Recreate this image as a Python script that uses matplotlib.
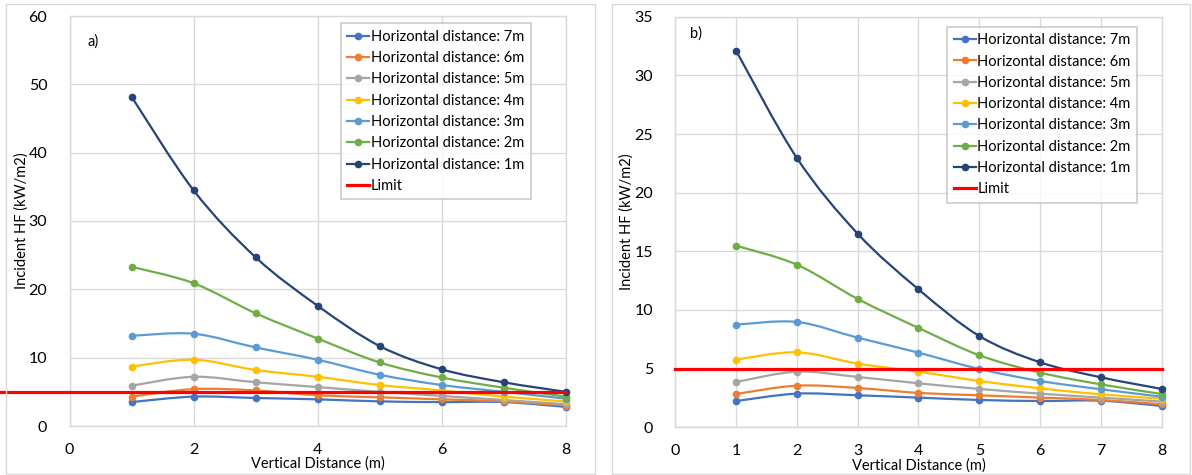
import matplotlib
matplotlib.use("Agg")
import matplotlib.pyplot as plt
from matplotlib.path import Path
from matplotlib.patches import PathPatch, Rectangle
from matplotlib.lines import Line2D
import numpy as np

plt.rcParams['font.family'] = ['Lato', 'DejaVu Sans']

x_vals = [1, 2, 3, 4, 5, 6, 7, 8]
labels = ["Horizontal distance: 7m", "Horizontal distance: 6m", "Horizontal distance: 5m",
          "Horizontal distance: 4m", "Horizontal distance: 3m", "Horizontal distance: 2m",
          "Horizontal distance: 1m"]
colors = ["#4472C4", "#ED7D31", "#A5A5A5", "#FFC000", "#5B9BD5", "#70AD47", "#264478"]

# panel a)
a_7m = [3.5, 4.3, 4.1, 3.9, 3.6, 3.5, 3.5, 2.8]
a_6m = [4.3, 5.4, 5.2, 4.5, 4.2, 3.9, 3.6, 3.0]
a_5m = [5.9, 7.2, 6.4, 5.7, 5.0, 4.4, 3.8, 3.2]
a_4m = [8.7, 9.7, 8.2, 7.2, 6.0, 5.2, 4.3, 3.6]
a_3m = [13.2, 13.5, 11.5, 9.7, 7.5, 6.0, 5.0, 4.0]
a_2m = [23.3, 20.9, 16.5, 12.8, 9.3, 7.1, 5.6, 4.3]
a_1m = [48.2, 34.5, 24.7, 17.6, 11.7, 8.3, 6.4, 5.0]
a_limit_x = [-1.12, 8]
a_limit_y = [5, 5]

# panel b)
b_7m = [2.24, 2.87, 2.73, 2.53, 2.33, 2.24, 2.27, 1.82]
b_6m = [2.84, 3.55, 3.35, 2.93, 2.73, 2.53, 2.33, 1.96]
b_5m = [3.86, 4.74, 4.29, 3.75, 3.27, 2.87, 2.53, 2.19]
b_4m = [5.77, 6.39, 5.43, 4.74, 3.95, 3.32, 2.81, 2.44]
b_3m = [8.75, 8.98, 7.64, 6.36, 4.97, 3.95, 3.24, 2.61]
b_2m = [15.48, 13.86, 10.94, 8.47, 6.14, 4.66, 3.66, 2.84]
b_1m = [32.1, 22.95, 16.5, 11.76, 7.78, 5.54, 4.26, 3.27]
b_limit_x = [0, 8]
b_limit_y = [5, 5]

a_series = [a_7m, a_6m, a_5m, a_4m, a_3m, a_2m, a_1m]
b_series = [b_7m, b_6m, b_5m, b_4m, b_3m, b_2m, b_1m]

W, H = 1192, 475
fig = plt.figure(figsize=(W / 100, H / 100), dpi=100)

# chart frames
for (x0, y0, x1, y1) in [(6, 4, 595, 474), (612, 4, 1190, 474)]:
    fig.patches.append(Rectangle((x0 / W, 1 - y1 / H), (x1 - x0) / W, (y1 - y0) / H,
                                 transform=fig.transFigure, fill=False,
                                 edgecolor="#d9d9d9", linewidth=1.0))


def smooth_path(xs, ys, t=1 / 6):
    xs = np.asarray(xs, float)
    ys = np.asarray(ys, float)
    n = len(xs)
    verts = [(xs[0], ys[0])]
    codes = [Path.MOVETO]
    for i in range(n - 1):
        p0 = np.array([xs[max(i - 1, 0)], ys[max(i - 1, 0)]])
        p1 = np.array([xs[i], ys[i]])
        p2 = np.array([xs[i + 1], ys[i + 1]])
        p3 = np.array([xs[min(i + 2, n - 1)], ys[min(i + 2, n - 1)]])
        c1 = p1 + (p2 - p0) * t
        c2 = p2 - (p3 - p1) * t
        verts += [tuple(c1), tuple(c2), tuple(p2)]
        codes += [Path.CURVE4] * 3
    return Path(verts, codes)


def draw_panel(rect, series, ymax, ystep, xstep, limx, limy, tag, tagpos, legpos, ylx):
    ax = fig.add_axes(rect)
    ax.set_xlim(0, 8)
    ax.set_ylim(0, ymax)
    ax.set_xticks(np.arange(0, 8.01, xstep))
    ax.set_yticks(np.arange(0, ymax + 0.01, ystep))
    ax.grid(True, color="#d9d9d9", linewidth=1.0)
    ax.set_axisbelow(True)
    for s in ax.spines.values():
        s.set_color("#d9d9d9")
        s.set_linewidth(1.0)
    ax.tick_params(length=0, labelsize=11.5, colors="#000000")
    ax.tick_params(axis='y', pad=16)
    ax.tick_params(axis='x', pad=12)
    handles = []
    for ys, col, lab in zip(series, colors, labels):
        pp = PathPatch(smooth_path(x_vals, ys), facecolor='none', edgecolor=col,
                       linewidth=1.6, transform=ax.transData, zorder=3)
        ax.add_patch(pp)
        ax.plot(x_vals, ys, linestyle='none', marker='o', markersize=4.5,
                color=col, zorder=4, clip_on=False)
        handles.append(Line2D([], [], color=col, linewidth=1.6, marker='o',
                              markersize=4.5, label=lab))
    ax.plot(limx, limy, color="#FF0000", linewidth=2.3, zorder=5, clip_on=False)
    handles.append(Line2D([], [], color="#FF0000", linewidth=2.3, label="Limit"))
    ax.set_ylabel("Incident HF (kW/m2)", fontsize=10.5)
    ax.yaxis.set_label_coords(ylx, 0.5)
    ax.set_xlabel("Vertical Distance (m)", fontsize=10.5, labelpad=0)
    ax.text(tagpos[0], tagpos[1], tag, transform=ax.transAxes, fontsize=10.5,
            ha='left', va='center')
    leg = ax.legend(handles=handles, loc='upper left',
                    bbox_to_anchor=(legpos[0] / W, 1 - legpos[1] / H),
                    bbox_transform=fig.transFigure, borderaxespad=0,
                    fancybox=False, frameon=True, fontsize=10.5,
                    handlelength=1.5, handletextpad=0.1, labelspacing=0.5,
                    borderpad=0.45)
    leg.get_frame().set_edgecolor("#bfbfbf")
    leg.get_frame().set_linewidth(1.2)
    leg.set_zorder(10)
    return ax


draw_panel([69.5 / W, 1 - 426 / H, 496.2 / W, 410 / H], a_series, 60, 10, 2,
           a_limit_x, a_limit_y, "a)", (0.037, 0.937), (340.7, 23.3), -0.083)
draw_panel([675.3 / W, 1 - 427.3 / H, 486.4 / W, 410.6 / H], b_series, 35, 5, 1,
           b_limit_x, b_limit_y, "b)", (0.031, 0.958), (947.3, 26.7), -0.086)

fig.savefig("out.png", dpi=100)
